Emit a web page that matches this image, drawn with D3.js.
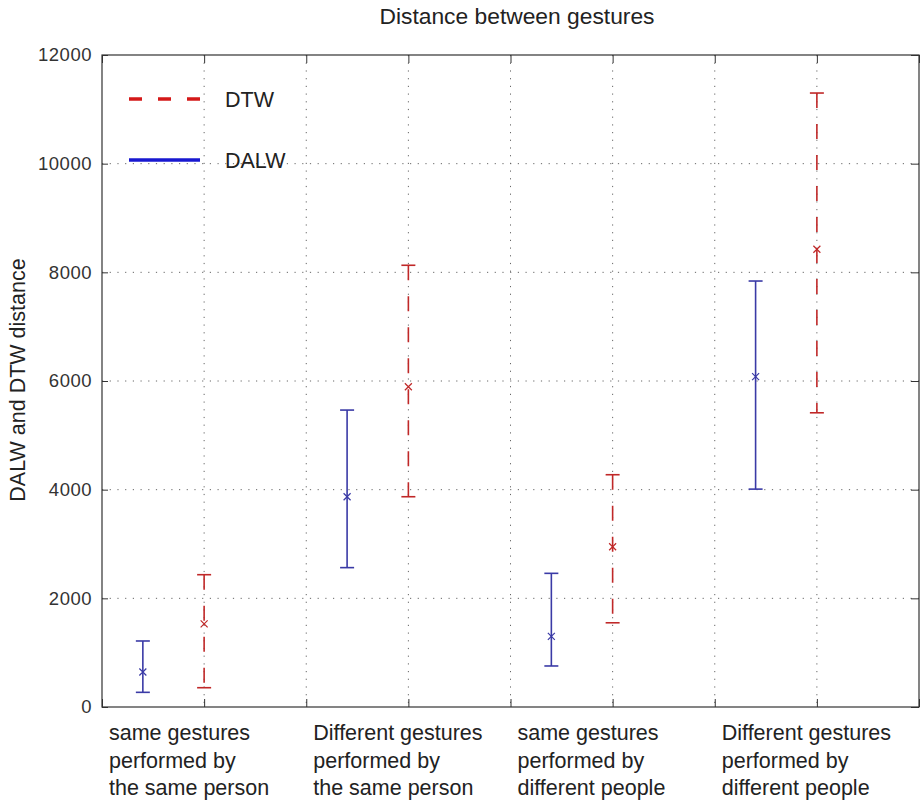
<!DOCTYPE html>
<html>
<head>
<meta charset="utf-8">
<script src="https://cdn.jsdelivr.net/npm/d3@7"></script>
<style>
  body { margin: 0; background: #fff; }
  svg { display: block; font-family: "Liberation Sans", Arial, sans-serif; }
  .grid line { stroke: #666; stroke-width: 1; stroke-dasharray: 1.2,6.5; }
  .axis path { display: none; }
  .axis line { stroke: #333; }
  .axis text { fill: #333; font-size: 18.5px; letter-spacing: 0.5px; font-family: "Liberation Sans", Arial, sans-serif; }
</style>
</head>
<body>
<div id="chart"></div>
<script>
// categories (label lines) and the x slot where each label starts
const categories = [
  ["same gestures", "performed by", "the same person"],
  ["Different gestures", "performed by", "the same person"],
  ["same gestures", "performed by", "different people"],
  ["Different gestures", "performed by", "different people"],
];
const categoryStart = [0, 2, 4, 6];

// DALW series
const dalwPos = [0.4, 2.4, 4.4, 6.4];
const dalwMean = [645, 3870, 1300, 6080];
const dalwLow = [270, 2565, 755, 4010];
const dalwHigh = [1215, 5465, 2460, 7840];

// DTW series
const dtwPos = [1, 3, 5, 7];
const dtwMean = [1530, 5895, 2950, 8425];
const dtwLow = [355, 3870, 1550, 5415];
const dtwHigh = [2435, 8130, 4275, 11300];

const yTicks = [0, 2000, 4000, 6000, 8000, 10000, 12000];
const xTicks = [0, 1, 2, 3, 4, 5, 6, 7, 8];

const width = 920, height = 804;
const margin = { top: 55, right: 1, bottom: 97, left: 102 };

const x = d3.scaleLinear().domain([0, 8]).range([margin.left, width - margin.right]);
const y = d3.scaleLinear().domain([0, 12000]).range([height - margin.bottom, margin.top]);

const svg = d3.select("#chart").append("svg")
  .attr("width", width)
  .attr("height", height);

// dotted grid
const grid = svg.append("g").attr("class", "grid");
grid.selectAll(".gx")
  .data(xTicks.slice(1, -1))
  .join("line")
  .attr("x1", d => x(d)).attr("x2", d => x(d))
  .attr("y1", y(12000)).attr("y2", y(0));
grid.selectAll(".gy")
  .data(yTicks.slice(1, -1))
  .join("line")
  .attr("x1", x(0)).attr("x2", x(8))
  .attr("y1", d => y(d)).attr("y2", d => y(d));

// axes with inward ticks
svg.append("g")
  .attr("class", "axis")
  .attr("transform", `translate(${x(0)},0)`)
  .call(d3.axisLeft(y).tickValues(yTicks).tickSize(-6).tickPadding(10).tickFormat(d3.format("d")));
svg.append("g")
  .attr("class", "axis")
  .attr("transform", `translate(${x(8)},0)`)
  .call(d3.axisRight(y).tickValues(yTicks).tickSize(-8).tickFormat(""));
svg.append("g")
  .attr("class", "axis")
  .attr("transform", `translate(0,${y(0)})`)
  .call(d3.axisBottom(x).tickValues(xTicks).tickSize(-8).tickFormat(""));
svg.append("g")
  .attr("class", "axis")
  .attr("transform", `translate(0,${y(12000)})`)
  .call(d3.axisTop(x).tickValues(xTicks).tickSize(-8).tickFormat(""));

svg.append("rect")
  .attr("x", x(0)).attr("y", y(12000))
  .attr("width", x(8) - x(0)).attr("height", y(0) - y(12000))
  .attr("fill", "none")
  .attr("stroke", "#333")
  .attr("stroke-width", 1.2);

// error bars
function errorBars(pos, mean, low, high, color, dash) {
  const g = svg.append("g");
  const capW = 7, mk = 3.5;
  pos.forEach((p, i) => {
    const cx = x(p);
    g.append("line")
      .attr("x1", cx).attr("x2", cx)
      .attr("y1", y(high[i])).attr("y2", y(low[i]))
      .attr("stroke", color).attr("stroke-width", 1.6)
      .attr("stroke-dasharray", dash);
    [high[i], low[i]].forEach(v => {
      g.append("line")
        .attr("x1", cx - capW).attr("x2", cx + capW)
        .attr("y1", y(v)).attr("y2", y(v))
        .attr("stroke", color).attr("stroke-width", 1.6);
    });
    const my = y(mean[i]);
    g.append("path")
      .attr("d", `M${cx - mk},${my - mk}L${cx + mk},${my + mk}M${cx - mk},${my + mk}L${cx + mk},${my - mk}`)
      .attr("stroke", color).attr("stroke-width", 1.2).attr("fill", "none");
  });
}
errorBars(dalwPos, dalwMean, dalwLow, dalwHigh, "#3a3aa6", null);
errorBars(dtwPos, dtwMean, dtwLow, dtwHigh, "#c02828", "15,16");

// legend
const legend = svg.append("g").attr("transform", "translate(129,0)");
legend.append("line")
  .attr("x1", 0).attr("x2", 71).attr("y1", 99).attr("y2", 99)
  .attr("stroke", "#d41818").attr("stroke-width", 3.5)
  .attr("stroke-dasharray", "13,16");
legend.append("text")
  .attr("x", 96).attr("y", 107)
  .attr("font-size", 21.5).attr("fill", "#222")
  .text("DTW");
legend.append("line")
  .attr("x1", 0).attr("x2", 71).attr("y1", 160).attr("y2", 160)
  .attr("stroke", "#1818d0").attr("stroke-width", 3.5);
legend.append("text")
  .attr("x", 96).attr("y", 168)
  .attr("font-size", 21.5).attr("fill", "#222")
  .text("DALW");

// title
svg.append("text")
  .attr("x", 517)
  .attr("y", 24)
  .attr("text-anchor", "middle")
  .attr("font-size", 22.8)
  .attr("fill", "#222")
  .text("Distance between gestures");

// y label
svg.append("text")
  .attr("transform", `translate(25,${(y(0) + y(12000)) / 2 - 1}) rotate(-90)`)
  .attr("text-anchor", "middle")
  .attr("font-size", 21.5)
  .attr("fill", "#222")
  .text("DALW and DTW distance");

// category labels
const catG = svg.append("g");
categories.forEach((lines, i) => {
  const t = catG.append("text")
    .attr("x", x(categoryStart[i]) + 7)
    .attr("y", 740)
    .attr("font-size", 21.5)
    .attr("fill", "#222");
  lines.forEach((s, j) => {
    t.append("tspan")
      .attr("x", x(categoryStart[i]) + 7)
      .attr("dy", j === 0 ? 0 : 27.5)
      .text(s);
  });
});
</script>
</body>
</html>
